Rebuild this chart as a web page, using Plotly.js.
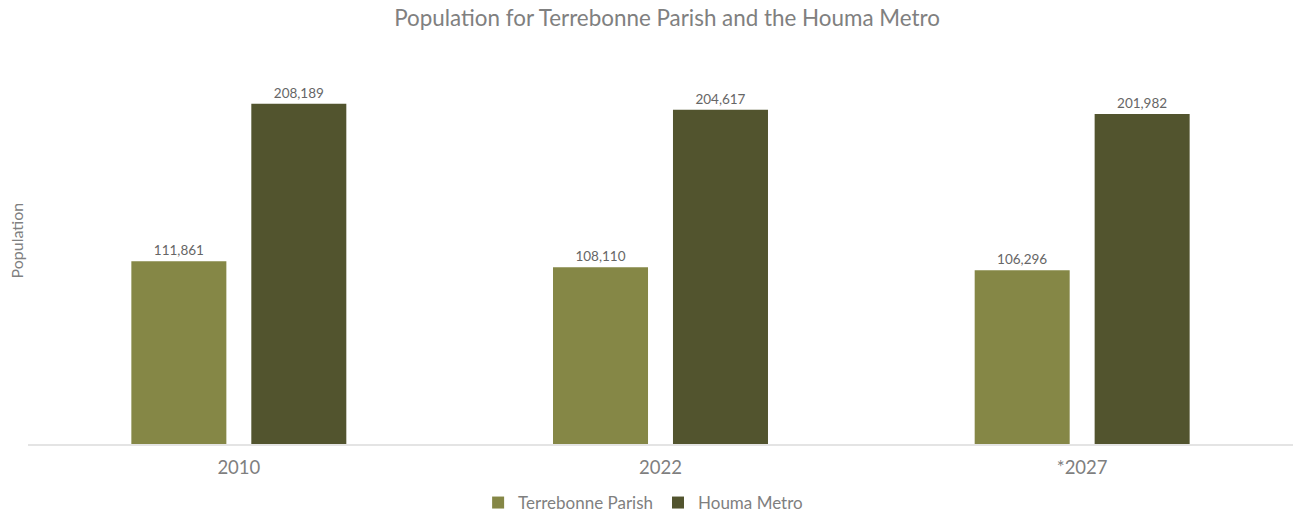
<!DOCTYPE html>
<html>
<head>
<meta charset="utf-8">
<script src="https://cdn.plot.ly/plotly-3.0.1.min.js"></script>
<style>html,body{margin:0;padding:0;background:#fff;}#chart{width:1294px;height:512px;}</style>
</head>
<body>
<div id="chart"></div>
<script>
const categories = ["2010", "2022", "*2027"];
const terrebonne = [111861, 108110, 106296];
const houma = [208189, 204617, 201982];
const seriesNames = ["Terrebonne Parish", "Houma Metro"];

const font = "Lato, 'Open Sans', sans-serif";
const traces = [
  {type: "bar", name: seriesNames[0], x: categories, y: terrebonne,
   marker: {color: "#858746"}, texttemplate: "%{y:,}", textposition: "outside",
   textfont: {family: font, size: 13.5, color: "#666666"}, cliponaxis: false, hoverinfo: "none"},
  {type: "bar", name: seriesNames[1], x: categories, y: houma,
   marker: {color: "#52542e"}, texttemplate: "%{y:,}", textposition: "outside",
   textfont: {family: font, size: 13.5, color: "#666666"}, cliponaxis: false, hoverinfo: "none"}
];
const layout = {
  width: 1294, height: 512,
  margin: {l: 28, r: 1, t: 60, b: 68},
  paper_bgcolor: "#fff", plot_bgcolor: "#fff",
  font: {family: font, color: "#7f7f7f"},
  title: {text: "Population for Terrebonne Parish and the Houma Metro", x: 0.5155, xanchor: "center",
          y: 0.965, yanchor: "middle", font: {family: font, size: 22.4, color: "#808080"}},
  barmode: "group", bargap: 0.431, bargroupgap: 0.208,
  xaxis: {type: "category", automargin: false, showline: true, linecolor: "#e4e4e4", linewidth: 2,
          ticks: "", ticklabelstandoff: 6, showgrid: false,
          tickfont: {family: font, size: 18.5, color: "#7f7f7f"}},
  yaxis: {range: [0, 235000], automargin: false, showgrid: false, showticklabels: false,
          zeroline: false, showline: false, ticks: ""},
  showlegend: true,
  legend: {orientation: "h", xref: "container", yref: "container", x: 0.497, xanchor: "center",
           y: 0.0176, yanchor: "middle", itemgap: 0,
           font: {family: font, size: 17, color: "#7f7f7f"}, itemwidth: 30, traceorder: "normal"},
  annotations: [{text: "Population", xref: "paper", yref: "paper", x: -0.0095, y: 0.53,
                 xanchor: "center", yanchor: "middle", textangle: -90, showarrow: false,
                 font: {family: font, size: 16, color: "#808080"}}]
};
Plotly.newPlot("chart", traces, layout, {displayModeBar: false, staticPlot: true});
</script>
</body>
</html>
